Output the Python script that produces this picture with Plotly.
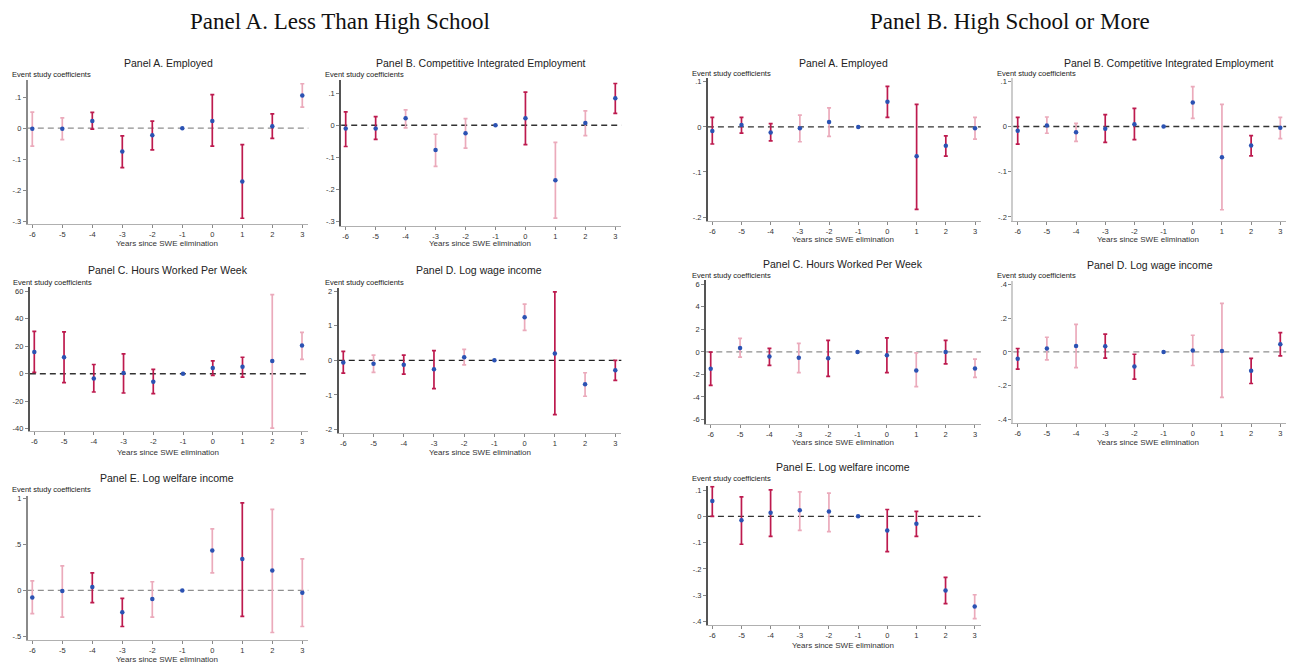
import plotly.graph_objects as go

W, H = 1289, 665

# ---------------- data ----------------
years = [-6, -5, -4, -3, -2, -1, 0, 1, 2, 3]
year_labels = ["-6", "-5", "-4", "-3", "-2", "-1", "0", "1", "2", "3"]

# Panel A. Less Than High School
lA_coef = [-0.002, -0.002, 0.023, -0.075, -0.023, 0.0, 0.023, -0.172, 0.006, 0.105]
lA_hi   = [0.052, 0.033, 0.051, -0.025, 0.023, 0.0, 0.108, -0.053, 0.046, 0.143]
lA_lo   = [-0.058, -0.037, -0.003, -0.127, -0.070, 0.0, -0.058, -0.290, -0.033, 0.068]

lB_coef = [-0.010, -0.010, 0.022, -0.077, -0.025, 0.0, 0.022, -0.171, 0.007, 0.084]
lB_hi   = [0.042, 0.027, 0.048, -0.028, 0.021, 0.0, 0.103, -0.053, 0.045, 0.130]
lB_lo   = [-0.066, -0.044, -0.008, -0.128, -0.071, 0.0, -0.060, -0.289, -0.032, 0.037]

lC_coef = [15.9, 12.0, -3.4, 0.5, -5.8, 0.0, 4.1, 5.1, 9.2, 20.5]
lC_hi   = [30.8, 30.4, 6.7, 14.5, 3.1, 0.0, 9.4, 12.0, 57.6, 30.1]
lC_lo   = [1.0, -6.5, -13.3, -14.0, -14.5, 0.0, -1.2, -2.4, -39.5, 10.4]

lD_coef = [-0.06, -0.10, -0.13, -0.26, 0.09, 0.0, 1.25, 0.20, -0.69, -0.29]
lD_hi   = [0.26, 0.15, 0.15, 0.28, 0.32, 0.0, 1.63, 1.98, -0.36, 0.0]
lD_lo   = [-0.37, -0.35, -0.40, -0.82, -0.13, 0.0, 0.87, -1.57, -1.04, -0.58]

lE_coef = [-0.076, -0.007, 0.036, -0.237, -0.094, 0.0, 0.432, 0.342, 0.216, -0.025]
lE_hi   = [0.104, 0.266, 0.190, -0.086, 0.094, 0.0, 0.669, 0.950, 0.880, 0.342]
lE_lo   = [-0.252, -0.291, -0.133, -0.392, -0.291, 0.0, 0.191, -0.281, -0.457, -0.392]

# Panel B. High School or More
rA_coef = [-0.009, 0.004, -0.0125, -0.003, 0.011, 0.0, 0.056, -0.065, -0.042, -0.003]
rA_hi   = [0.021, 0.021, 0.007, 0.026, 0.042, 0.0, 0.090, 0.050, -0.020, 0.021]
rA_lo   = [-0.038, -0.014, -0.031, -0.033, -0.021, 0.0, 0.021, -0.183, -0.065, -0.027]

rB_coef = [-0.0095, 0.002, -0.013, -0.005, 0.005, 0.0, 0.053, -0.068, -0.042, -0.003]
rB_hi   = [0.020, 0.021, 0.007, 0.026, 0.040, 0.0, 0.088, 0.049, -0.020, 0.020]
rB_lo   = [-0.039, -0.015, -0.033, -0.035, -0.029, 0.0, 0.018, -0.184, -0.065, -0.027]

rC_coef = [-1.50, 0.35, -0.41, -0.53, -0.56, 0.0, -0.29, -1.65, 0.0, -1.47]
rC_hi   = [-0.03, 1.20, 0.32, 0.76, 1.03, 0.0, 1.24, -0.09, 1.03, -0.65]
rC_lo   = [-2.97, -0.47, -1.20, -1.85, -2.18, 0.0, -1.85, -3.09, -1.06, -2.26]

rD_coef = [-0.041, 0.020, 0.035, 0.034, -0.087, 0.0, 0.008, 0.006, -0.112, 0.045]
rD_hi   = [0.020, 0.087, 0.163, 0.106, -0.014, 0.0, 0.099, 0.288, -0.039, 0.114]
rD_lo   = [-0.102, -0.047, -0.093, -0.037, -0.162, 0.0, -0.081, -0.270, -0.188, -0.024]

rE_coef = [0.058, -0.015, 0.014, 0.023, 0.018, 0.0, -0.054, -0.028, -0.282, -0.343]
rE_hi   = [0.113, 0.074, 0.101, 0.093, 0.088, 0.0, 0.026, 0.019, -0.232, -0.298]
rE_lo   = [0.000, -0.106, -0.076, -0.053, -0.058, 0.0, -0.134, -0.076, -0.332, -0.389]

# y tick labels
ticks_emp = [-0.3, -0.2, -0.1, 0, 0.1]
ticks_emp_txt = ["-.3", "-.2", "-.1", "0", ".1"]
ticks_hrs_l = [-40, -20, 0, 20, 40, 60]
ticks_hrs_l_txt = ["-40", "-20", "0", "20", "40", "60"]
ticks_wage_l = [-2, -1, 0, 1, 2]
ticks_wage_l_txt = ["-2", "-1", "0", "1", "2"]
ticks_welf_l = [-0.5, 0, 0.5, 1]
ticks_welf_l_txt = ["-.5", "0", ".5", "1"]
ticks_emp_r = [-0.2, -0.1, 0, 0.1]
ticks_emp_r_txt = ["-.2", "-.1", "0", ".1"]
ticks_hrs_r = [-6, -4, -2, 0, 2, 4, 6]
ticks_hrs_r_txt = ["-6", "-4", "-2", "0", "2", "4", "6"]
ticks_wage_r = [-0.4, -0.2, 0, 0.2, 0.4]
ticks_wage_r_txt = ["-.4", "-.2", "0", ".2", ".4"]
ticks_welf_r = [-0.4, -0.3, -0.2, -0.1, 0, 0.1]
ticks_welf_r_txt = ["-.4", "-.3", "-.2", "-.1", "0", ".1"]

# ---------------- styles ----------------
# shade of each confidence interval: d = dark, l = light, n = reference year
lA_shade = list("lldddndddl")
lB_shade = list("ddlllndlld")
lC_shade = list("dddddnddll")
lD_shade = list("dlddlnldld")
lE_shade = list("llddlnldll")
rA_shade = list("dddllndddl")
rB_shade = list("dllddnlldl")
rC_shade = list("dldldndldl")
rD_shade = list("dllddnlldd")
rE_shade = list("dddllndddl")

DARK = "#bd1a4e"
LIGHT = "#ebaabb"
BLUE = "#2b52b3"

panels = [
    dict(t="Panel A. Employed", c=lA_coef, hi=lA_hi, lo=lA_lo, s=lA_shade, tv=ticks_emp, tt=ticks_emp_txt,
         yr=[-0.31, 0.155], xc=(32.3, 302.3), yc=((0.1, 95.7), (-0.3, 220.7)),
         tp=(168, 61), ep=(10, 73), xp=(167, 243), zc="#8f8f8f", ac="#8a8a8a"),
    dict(t="Panel B. Competitive Integrated Employment", c=lB_coef, hi=lB_hi, lo=lB_lo, s=lB_shade, tv=ticks_emp, tt=ticks_emp_txt,
         yr=[-0.312, 0.141], xc=(345.7, 615.3), yc=((0.1, 91.7), (-0.3, 221.0)),
         tp=(481, 61), ep=(323, 73), xp=(480, 243), zc="#333333", ac="#555555"),
    dict(t="Panel C. Hours Worked Per Week", c=lC_coef, hi=lC_hi, lo=lC_lo, s=lC_shade, tv=ticks_hrs_l, tt=ticks_hrs_l_txt,
         yr=[-42, 63], xc=(34.3, 302.0), yc=((60, 291.0), (-40, 429.3)),
         tp=(168, 270), ep=(11, 282), xp=(168, 453), zc="#333333", ac="#555555"),
    dict(t="Panel D. Log wage income", c=lD_coef, hi=lD_hi, lo=lD_lo, s=lD_shade, tv=ticks_wage_l, tt=ticks_wage_l_txt,
         yr=[-2.1, 2.1], xc=(343.3, 615.3), yc=((2, 291.0), (-2, 430.0)),
         tp=(479, 270), ep=(323, 282), xp=(480, 453), zc="#222222", ac="#555555"),
    dict(t="Panel E. Log welfare income", c=lE_coef, hi=lE_hi, lo=lE_lo, s=lE_shade, tv=ticks_welf_l, tt=ticks_welf_l_txt,
         yr=[-0.54, 1.03], xc=(32.3, 302.3), yc=((1, 499.3), (-0.5, 638.3)),
         tp=(167, 479), ep=(10, 490), xp=(167, 661), zc="#8f8f8f", ac="#8a8a8a"),
    dict(t="Panel A. Employed", c=rA_coef, hi=rA_hi, lo=rA_lo, s=rA_shade, tv=ticks_emp_r, tt=ticks_emp_r_txt,
         yr=[-0.208, 0.108], xc=(712.3, 975.0), yc=((0.1, 80.3), (-0.2, 216.3)),
         tp=(843, 61), ep=(690, 72), xp=(843, 239), zc="#333333", ac="#555555"),
    dict(t="Panel B. Competitive Integrated Employment", c=rB_coef, hi=rB_hi, lo=rB_lo, s=rB_shade, tv=ticks_emp_r, tt=ticks_emp_r_txt,
         yr=[-0.208, 0.108], xc=(1017.7, 1280.3), yc=((0.1, 79.7), (-0.2, 216.3)),
         tp=(1169, 61), ep=(995, 72), xp=(1148, 239), zc="#333333", ac="#cccccc"),
    dict(t="Panel C. Hours Worked Per Week", c=rC_coef, hi=rC_hi, lo=rC_lo, s=rC_shade, tv=ticks_hrs_r, tt=ticks_hrs_r_txt,
         yr=[-6.4, 6.35], xc=(710.7, 975.0), yc=((6, 284.0), (-6, 420.0)),
         tp=(843, 264), ep=(690, 275), xp=(843, 443), zc="#8f8f8f", ac="#555555"),
    dict(t="Panel D. Log wage income", c=rD_coef, hi=rD_hi, lo=rD_lo, s=rD_shade, tv=ticks_wage_r, tt=ticks_wage_r_txt,
         yr=[-0.42, 0.42], xc=(1017.7, 1280.3), yc=((0.4, 284.3), (-0.4, 419.7)),
         tp=(1150, 265), ep=(995, 275), xp=(1148, 443), zc="#8f8f8f", ac="#cccccc"),
    dict(t="Panel E. Log welfare income", c=rE_coef, hi=rE_hi, lo=rE_lo, s=rE_shade, tv=ticks_welf_r, tt=ticks_welf_r_txt,
         yr=[-0.413, 0.116], xc=(712.3, 974.7), yc=((0.1, 491.0), (-0.4, 623.3)),
         tp=(843, 468), ep=(690, 479), xp=(843, 647), zc="#333333", ac="#555555"),
]

XR = [-6.15, 3.2]
FONT = "Liberation Sans, Arial, sans-serif"

fig = go.Figure()
annotations = []
shapes = []


def px2x(p):
    return p / W


def px2y(p):
    return 1 - p / H


for i, P in enumerate(panels, start=1):
    xs = "" if i == 1 else str(i)
    xa, ya = "x" + xs, "y" + xs
    (xp6, xp3) = P["xc"]
    ux = (xp3 - xp6) / 9.0
    xl = xp6 + (XR[0] + 6) * ux
    xr = xp6 + (XR[1] + 6) * ux
    (v0, p0), (v1, p1) = P["yc"]
    uy = (p1 - p0) / (v1 - v0)
    yb = p0 + (P["yr"][0] - v0) * uy
    yt = p0 + (P["yr"][1] - v0) * uy

    fig.layout["xaxis" + xs] = dict(
        domain=[px2x(xl), px2x(xr)], range=XR, anchor=ya,
        tickvals=years, ticktext=year_labels, showline=True, linecolor="#b0b0b0", linewidth=1,
        ticks="outside", ticklen=3, tickcolor="#888888", tickfont=dict(size=7.5, color="#333333", family=FONT),
        showgrid=False, zeroline=False, fixedrange=True)
    fig.layout["yaxis" + xs] = dict(
        domain=[px2y(yb), px2y(yt)], range=P["yr"], anchor=xa,
        tickvals=P["tv"], ticktext=P["tt"], showline=True, linecolor=P["ac"], linewidth=2,
        ticks="outside", ticklen=3, tickcolor="#888888", tickfont=dict(size=7.5, color="#333333", family=FONT),
        showgrid=False, zeroline=False, fixedrange=True)

    shapes.append(dict(type="line", xref=xa + " domain", yref=ya, x0=0, x1=1, y0=0, y1=0,
                       line=dict(color=P["zc"], width=1.3, dash="6px,4px"), layer="below"))

    for shade, col in (("l", LIGHT), ("d", DARK)):
        idx = [k for k, s in enumerate(P["s"]) if s == shade]
        if not idx:
            continue
        fig.add_trace(go.Scatter(
            x=[years[k] for k in idx], y=[P["c"][k] for k in idx],
            mode="markers", xaxis=xa, yaxis=ya, showlegend=False,
            marker=dict(color=BLUE, size=4.5, symbol="circle"),
            error_y=dict(type="data", symmetric=False,
                         array=[P["hi"][k] - P["c"][k] for k in idx],
                         arrayminus=[P["c"][k] - P["lo"][k] for k in idx],
                         color=col, thickness=1.7, width=2)))
    idx = [k for k, s in enumerate(P["s"]) if s == "n"]
    fig.add_trace(go.Scatter(
        x=[years[k] for k in idx], y=[P["c"][k] for k in idx],
        mode="markers", xaxis=xa, yaxis=ya, showlegend=False,
        marker=dict(color=BLUE, size=4.5, symbol="circle")))

    tx, ty = P["tp"]
    annotations.append(dict(text=P["t"], x=px2x(tx), y=px2y(ty), xref="paper", yref="paper",
                            xanchor="center", yanchor="middle", showarrow=False,
                            font=dict(size=10.5, color="#222222", family=FONT)))
    ex, ey = P["ep"]
    annotations.append(dict(text="Event study coefficients", x=px2x(ex), y=px2y(ey), xref="paper", yref="paper",
                            xanchor="left", yanchor="middle", showarrow=False,
                            font=dict(size=7.5, color="#222222", family=FONT)))
    gx, gy = P["xp"]
    annotations.append(dict(text="Years since SWE elimination", x=px2x(gx), y=px2y(gy), xref="paper", yref="paper",
                            xanchor="center", yanchor="middle", showarrow=False,
                            font=dict(size=8, color="#333333", family=FONT)))

annotations.append(dict(text="Panel A. Less Than High School", x=px2x(340), y=px2y(20), xref="paper", yref="paper",
                        xanchor="center", yanchor="middle", showarrow=False,
                        font=dict(size=23, color="#111111", family="Liberation Serif, Times New Roman, serif")))
annotations.append(dict(text="Panel B. High School or More", x=px2x(1010), y=px2y(20), xref="paper", yref="paper",
                        xanchor="center", yanchor="middle", showarrow=False,
                        font=dict(size=23, color="#111111", family="Liberation Serif, Times New Roman, serif")))

fig.update_layout(width=W, height=H, margin=dict(l=0, r=0, t=0, b=0),
                  paper_bgcolor="white", plot_bgcolor="white",
                  annotations=annotations, shapes=shapes, showlegend=False)

fig.write_html("out.html", config={"displayModeBar": False})
